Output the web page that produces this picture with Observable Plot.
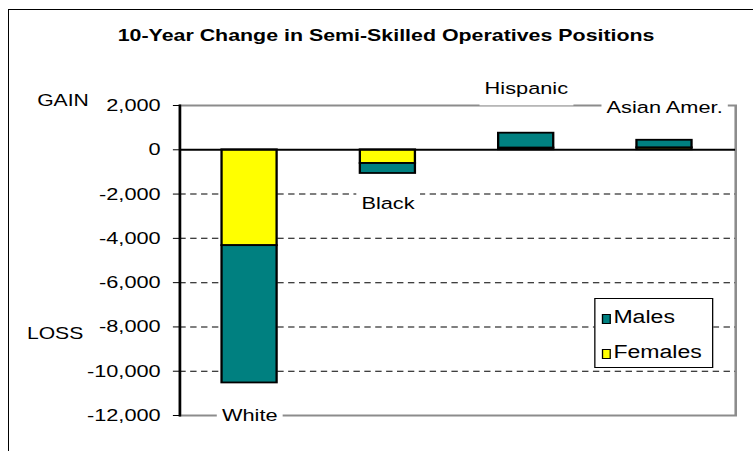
<!DOCTYPE html>
<html>
<head>
<meta charset="utf-8">
<script src="https://cdn.jsdelivr.net/npm/d3@7"></script>
<script src="https://cdn.jsdelivr.net/npm/@observablehq/plot@0.6"></script>
<style>
  html, body { margin: 0; padding: 0; background: #fff; overflow: hidden; width: 753px; height: 451px; }
  body { font-family: "Liberation Sans", Arial, sans-serif; color: #000; }
  #outer { position: absolute; left: 8px; top: 9px; width: 800px; height: 500px; border-left: 1px solid #000; border-top: 1px solid #000; }
  #wrap { position: absolute; left: 0; top: 0; width: 588px; height: 451px; transform-origin: 0 0; }
  #wrap svg { position: absolute; left: 0; top: 0; }
  .txt { position: absolute; white-space: nowrap; line-height: 1; }
  #title { left: 0; width: 603px; top: 28px; text-align: center; font-weight: bold; font-size: 16.7px; }
  #gain { left: 29px; top: 92px; font-size: 16.5px; }
  #loss { left: 21px; top: 325px; font-size: 16.5px; }
  #legend { position: absolute; left: 464px; top: 298px; width: 91px; height: 68px; border: 1px solid #000; background: #fff; }
  .item { position: absolute; left: 5px; white-space: nowrap; font-size: 18px; line-height: 1; }
  .sw { display: inline-block; width: 5px; height: 8px; border: 1.5px solid #000; vertical-align: -1px; margin-right: 2px; }
</style>
</head>
<body>
<div id="outer"></div>
<div id="wrap">
  <div id="plot"></div>
  <div id="title" class="txt">10-Year Change in Semi-Skilled Operatives Positions</div>
  <div id="gain" class="txt">GAIN</div>
  <div id="loss" class="txt">LOSS</div>
  <div id="legend"></div>
</div>
<script>
// ---- data ----
const groups = ["White", "Black", "Hispanic", "Asian Amer."];
const males = [-6200, -450, 670, 340];
const females = [-4330, -620, 80, 90];
const labelAt = [-12000, -2450, 2770, 1910];
const sexes = ["Males", "Females"];
const colors = ["#008080", "#FFFF00"];
const yTicks = [2000, 0, -2000, -4000, -6000, -8000, -10000, -12000];
const gridValues = [-2000, -4000, -6000, -8000, -10000];

// ---- layout ----
const W = 588, H = 451, FULLW = 753;
const stretch = FULLW / W;
document.getElementById("wrap").style.transform = `scaleX(${stretch})`;

const rows = [];
groups.forEach((g, i) => rows.push({group: g, sex: "Females", value: females[i]}));
groups.forEach((g, i) => rows.push({group: g, sex: "Males", value: males[i]}));

const labels = groups.map((g, i) => ({group: g, y: labelAt[i]}));
const fmt = d => d3.format(",")(d).replace("\u2212", "-");
const font = "'Liberation Sans', Arial, sans-serif";

const chart = Plot.plot({
  width: W,
  height: H,
  marginLeft: 140,
  marginRight: 14,
  marginTop: 105,
  marginBottom: 36,
  style: {fontFamily: font, fontSize: "17px", background: "transparent", color: "#000", overflow: "visible"},
  x: {type: "band", domain: groups, paddingInner: 0.6, paddingOuter: 0.3, axis: null},
  y: {domain: [-12000, 2000], axis: null},
  color: {domain: sexes, range: colors},
  marks: [
    Plot.frame({stroke: "#8c8c8c", strokeWidth: 2}),
    Plot.ruleY(gridValues, {stroke: "#000", strokeWidth: 1, strokeDasharray: "5,3.5"}),
    Plot.barY(rows, {x: "group", y: "value", fill: "sex", stroke: "#000", strokeWidth: 1.8}),
    Plot.ruleY([0], {stroke: "#000", strokeWidth: 2}),
    Plot.frame({anchor: "left", stroke: "#000", strokeWidth: 2}),
    Plot.axisY({ticks: yTicks, tickFormat: fmt, tickSize: 5, tickPadding: 10, fontSize: 17, label: null, stroke: "#000"}),
    Plot.text(labels, {x: "group", y: "y", text: "group", fill: "#000", fontSize: 17})
  ]
});
document.getElementById("plot").appendChild(chart);

// white label boxes behind the category labels (Excel-style), sized from the rendered text
d3.select(chart).selectAll('g[aria-label="text"] text').each(function () {
  const b = this.getBBox();
  const padX = 4, padY = 8;
  const r = document.createElementNS("http://www.w3.org/2000/svg", "rect");
  r.setAttribute("x", b.x - padX);
  r.setAttribute("y", b.y - padY);
  r.setAttribute("width", b.width + 2 * padX);
  r.setAttribute("height", b.height + 2 * padY);
  r.setAttribute("fill", "#fff");
  const t = this.getAttribute("transform");
  if (t) r.setAttribute("transform", t);
  this.parentNode.insertBefore(r, this);
});

// ---- legend ----
const legend = d3.select("#legend");
const tops = [9, 44];
sexes.forEach((s, i) => {
  const it = legend.append("div").attr("class", "item").style("top", tops[i] + "px");
  it.append("span").attr("class", "sw").style("background", colors[i]);
  it.append("span").text(s);
});
</script>
</body>
</html>
